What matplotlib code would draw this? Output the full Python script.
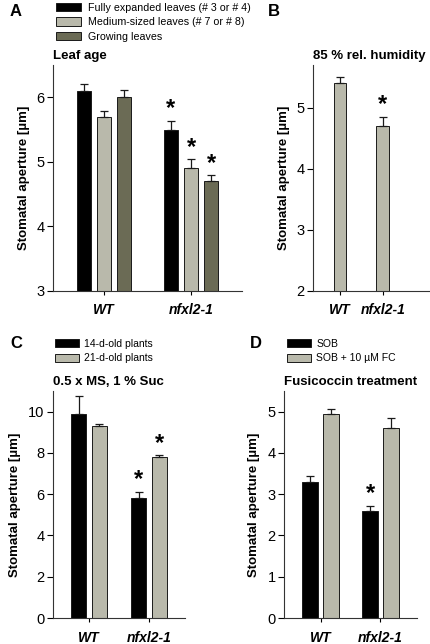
import matplotlib
matplotlib.use('Agg')
import matplotlib.pyplot as plt

plt.rcParams['font.family'] = ['Liberation Sans', 'DejaVu Sans']

genotypes = ['WT', 'nfxl2-1']

# A - leaf age
leaf_labels = ['Fully expanded leaves (# 3 or # 4)', 'Medium-sized leaves (# 7 or # 8)', 'Growing leaves']
leaf_vals = [[6.1, 5.5], [5.7, 4.9], [6.0, 4.7]]
leaf_err = [[0.10, 0.13], [0.08, 0.14], [0.12, 0.09]]
leaf_star = [[False, True], [False, True], [False, True]]

# B - humidity
hum_vals = [5.4, 4.7]
hum_err = [0.10, 0.15]
hum_star = [False, True]

# C - plant age
age_labels = ['14-d-old plants', '21-d-old plants']
age_vals = [[9.9, 5.8], [9.3, 7.8]]
age_err = [[0.85, 0.30], [0.10, 0.08]]
age_star = [[False, True], [False, True]]

# D - fusicoccin
fc_labels = ['SOB', 'SOB + 10 \u00b5M FC']
fc_vals = [[3.3, 2.6], [4.95, 4.6]]
fc_err = [[0.15, 0.12], [0.12, 0.25]]
fc_star = [[False, True], [False, False]]

BLACK = '#000000'
LIGHT = '#b9b9ab'
OLIVE = '#6b6b55'
W, H = 430, 644

fig = plt.figure(figsize=(4.3, 6.44), dpi=100)


def px_axes(l, r, t, b):
    return fig.add_axes([l / W, (H - b) / H, (r - l) / W, (b - t) / H])


def style(ax, ylim, yticks, xlim, title):
    ax.set_ylim(*ylim)
    ax.set_xlim(*xlim)
    ax.set_yticks(yticks)
    ax.set_xticks([0, 1])
    ax.set_xticklabels(genotypes, fontsize=10, fontweight='bold', fontstyle='italic')
    ax.spines['top'].set_visible(False)
    ax.spines['right'].set_visible(False)
    for s in ['left', 'bottom']:
        ax.spines[s].set_linewidth(0.8)
        ax.spines[s].set_color('#333333')
    ax.tick_params(axis='y', labelsize=10.5, length=4, width=0.8, pad=2)
    ax.tick_params(axis='x', length=3, width=0.8, pad=6)
    ax.set_ylabel('Stomatal aperture [\u00b5m]', fontsize=9.5, fontweight='bold', labelpad=5)
    ax.set_title(title, fontsize=9.5, fontweight='bold', loc='left', pad=4)


def grouped(ax, vals, errs, stars, colors, offsets, width, labels=None):
    bars = []
    for i, (v, e, st, c, o) in enumerate(zip(vals, errs, stars, colors, offsets)):
        xs = [x + o for x in range(len(v))]
        b = ax.bar(xs, v, width, color=c, edgecolor='#1a1a1a', linewidth=0.7,
                   yerr=[[0] * len(e), e], capsize=3,
                   error_kw=dict(ecolor='#1a1a1a', elinewidth=0.9, capthick=0.9),
                   label=labels[i] if labels else None, zorder=2)
        bars.append(b)
        span = ax.get_ylim()[1] - ax.get_ylim()[0]
        for x, y, err, s in zip(xs, v, e, st):
            if s:
                ax.text(x, y + err + span * 0.003, '*', ha='center', va='bottom',
                        fontsize=17, fontweight='bold')
    return bars


# Panel A
axA = px_axes(53, 242, 65, 291)
axA.set_ylim(3, 6.5)
bA = grouped(axA, leaf_vals, leaf_err, leaf_star, [BLACK, LIGHT, OLIVE],
             [-0.23, 0, 0.23], 0.15, leaf_labels)
style(axA, (3, 6.5), [3, 4, 5, 6], (-0.586, 1.586), 'Leaf age')
fig.legend(handles=bA, loc='upper left', bbox_to_anchor=(56 / W, 1 - 3 / H),
           frameon=False, fontsize=7.7, handlelength=2.3, handleheight=0.8,
           handletextpad=0.65, labelspacing=0.4, borderpad=0, borderaxespad=0)

# Panel B
axB = px_axes(313, 430, 65, 291)
axB.set_ylim(2, 5.7)
grouped(axB, [hum_vals], [hum_err], [hum_star], [LIGHT], [0], 0.3)
style(axB, (2, 5.7), [2, 3, 4, 5], (-0.63, 2.1), '85 % rel. humidity')

# Panel C
axC = px_axes(53, 185, 391, 618)
axC.set_ylim(0, 11)
bC = grouped(axC, age_vals, age_err, age_star, [BLACK, LIGHT], [-0.17, 0.17], 0.25, age_labels)
style(axC, (0, 11), [0, 2, 4, 6, 8, 10], (-0.6, 1.6), '0.5 x MS, 1 % Suc')
fig.legend(handles=bC, loc='upper left', bbox_to_anchor=(55 / W, 1 - 339 / H),
           frameon=False, fontsize=7.5, handlelength=2.3, handleheight=0.8,
           handletextpad=0.5, labelspacing=0.4, borderpad=0, borderaxespad=0)

# Panel D
axD = px_axes(284, 417, 391, 618)
axD.set_ylim(0, 5.5)
bD = grouped(axD, fc_vals, fc_err, fc_star, [BLACK, LIGHT], [-0.17, 0.17], 0.27, fc_labels)
style(axD, (0, 5.5), [0, 1, 2, 3, 4, 5], (-0.61, 1.61), 'Fusicoccin treatment')
fig.legend(handles=bD, loc='upper left', bbox_to_anchor=(287 / W, 1 - 339 / H),
           frameon=False, fontsize=7.5, handlelength=2.3, handleheight=0.8,
           handletextpad=0.5, labelspacing=0.4, borderpad=0, borderaxespad=0)

# panel letters
for letter, x, y in [('A', 10, 12), ('B', 268, 12), ('C', 10, 344), ('D', 250, 344)]:
    fig.text(x / W, 1 - y / H, letter, fontsize=12, fontweight='bold', ha='left', va='center')

fig.savefig('out.png', dpi=100)
